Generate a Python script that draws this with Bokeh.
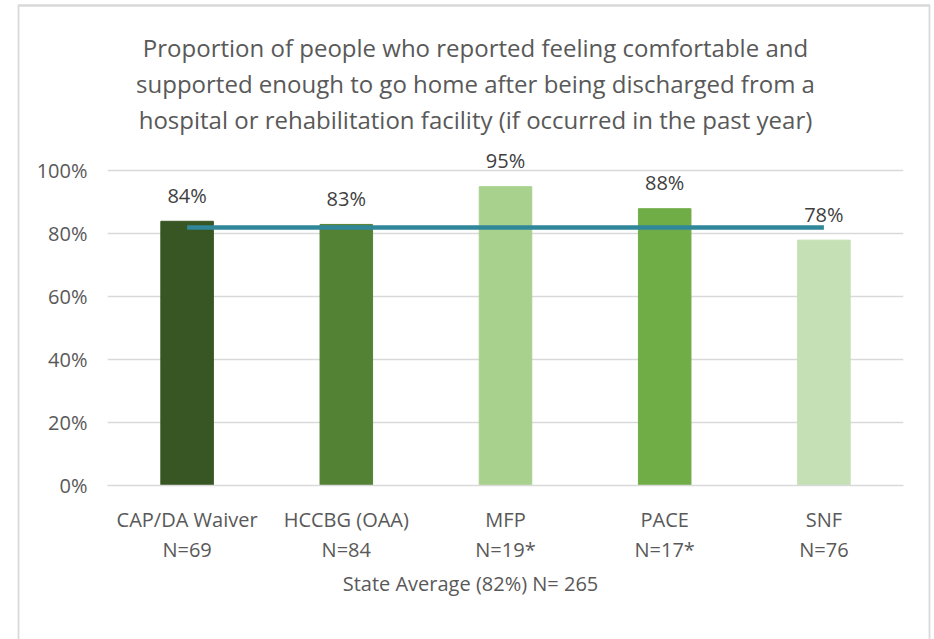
from bokeh.plotting import figure
from bokeh.models import (ColumnDataSource, LabelSet, Label, LinearAxis,
                          Range1d, FixedTicker, NumeralTickFormatter)
from bokeh.embed import file_html
from bokeh.resources import INLINE
from bokeh.core.properties import value

# ---- data ----
categories = ["CAP/DA Waiver", "HCCBG (OAA)", "MFP", "PACE", "SNF"]
sample_sizes = ["N=69", "N=84", "N=19*", "N=17*", "N=76"]
values = [0.84, 0.83, 0.95, 0.88, 0.78]
value_labels = ["84%", "83%", "95%", "88%", "78%"]
bar_colors = ["#375623", "#548235", "#A9D18E", "#70AD47", "#C5E0B4"]
state_average = 0.82
state_total_n = 265
y_ticks = [0, 0.2, 0.4, 0.6, 0.8, 1.0]

title_text = ("Proportion of people who reported feeling comfortable and\n"
              "supported enough to go home after being discharged from a\n"
              "hospital or rehabilitation facility (if occurred in the past year)")
axis_title = f"State Average ({round(state_average*100)}%) N= {state_total_n}"

FONT = "Open Sans"
TXT = "#595959"
BORDER = "#d9d9d9"

pos = list(range(len(categories)))
src = ColumnDataSource(dict(x=pos, val=values, lab=value_labels, color=bar_colors))

p = figure(width=934, height=639, x_range=Range1d(-0.5, len(categories) - 0.5),
           y_range=Range1d(0, 1.1), output_backend="svg", toolbar_location=None,
           min_border_left=107, min_border_right=31, min_border_top=139, min_border_bottom=154)
p.background_fill_color = "white"
p.border_fill_color = "white"
p.outline_line_color = None


def edge(x, y, pad, place):
    """Thin blank label box used as one edge of the chart-area border.
    pad is (horizontal, vertical)."""
    p.add_layout(Label(x=x, y=y, x_units="canvas", y_units="canvas", text=" ",
                       text_align="center", text_baseline="middle", text_font_size="1px",
                       text_color="white", padding=pad, background_fill_color=None,
                       border_line_color=BORDER, border_line_width=1.5), place)


edge(473.5, 5, (455, 0), "above")   # top edge
edge(18, 405, (0, 400), "left")     # left edge
edge(929, 405, (0, 400), "right")   # right edge

# bars
p.vbar(x="x", top="val", width=0.33, color="color", source=src)

# state average line
p.line(x=pos, y=[state_average] * len(categories), line_color="#31879A", line_width=4.5)

# value labels
p.add_layout(LabelSet(x="x", y="val", text="lab", source=src, y_offset=26,
                      text_align="center", text_baseline="middle",
                      text_font=value(FONT), text_font_size=value("20px"),
                      text_color=value("#404040")))

# y axis
p.yaxis.ticker = FixedTicker(ticks=y_ticks)
p.yaxis.formatter = NumeralTickFormatter(format="0%")
p.yaxis.axis_line_color = None
p.yaxis.major_tick_line_color = None
p.yaxis.minor_tick_line_color = None
p.yaxis.major_tick_out = 0
p.yaxis.major_tick_in = 0
p.yaxis.major_label_standoff = 20
p.yaxis.major_label_text_font = FONT
p.yaxis.major_label_text_font_size = "20px"
p.yaxis.major_label_text_color = TXT

# x axis: category names
p.xaxis.ticker = FixedTicker(ticks=pos, minor_ticks=[])
p.xaxis.major_label_overrides = dict(zip(pos, categories))
p.xaxis.axis_line_color = BORDER
p.xaxis.axis_line_width = 1.5
p.xaxis.major_tick_line_color = None
p.xaxis.minor_tick_line_color = None
p.xaxis.major_tick_out = 0
p.xaxis.major_tick_in = 0
p.xaxis.major_label_standoff = 20
p.xaxis.major_label_text_font = FONT
p.xaxis.major_label_text_font_size = "20px"
p.xaxis.major_label_text_color = TXT

# second x axis: sample sizes
n_axis = LinearAxis(ticker=FixedTicker(ticks=pos, minor_ticks=[]),
                    major_label_overrides=dict(zip(pos, sample_sizes)),
                    axis_line_color=None, major_tick_line_color=None,
                    minor_tick_line_color=None, major_tick_out=0, major_tick_in=0,
                    major_label_standoff=0, major_label_text_font=FONT,
                    major_label_text_font_size="20px", major_label_text_color=TXT)
p.add_layout(n_axis, "below")

p.xgrid.grid_line_color = None
p.ygrid.grid_line_color = BORDER
p.ygrid.grid_line_width = 1.5

# title and axis title (canvas coordinates, placed in side panels so they are not clipped)
p.add_layout(Label(x=475, y=83, x_units="canvas", y_units="canvas", text=title_text,
                   text_align="center", text_baseline="middle", text_font=FONT,
                   text_font_size="24px", text_color=TXT, text_line_height=1.1), "above")
p.add_layout(Label(x=470, y=583, x_units="canvas", y_units="canvas", text=axis_title,
                   text_align="center", text_baseline="middle", text_font=FONT,
                   text_font_size="20px", text_color=TXT), "below")

open("out.html", "w").write(file_html(p, INLINE))
